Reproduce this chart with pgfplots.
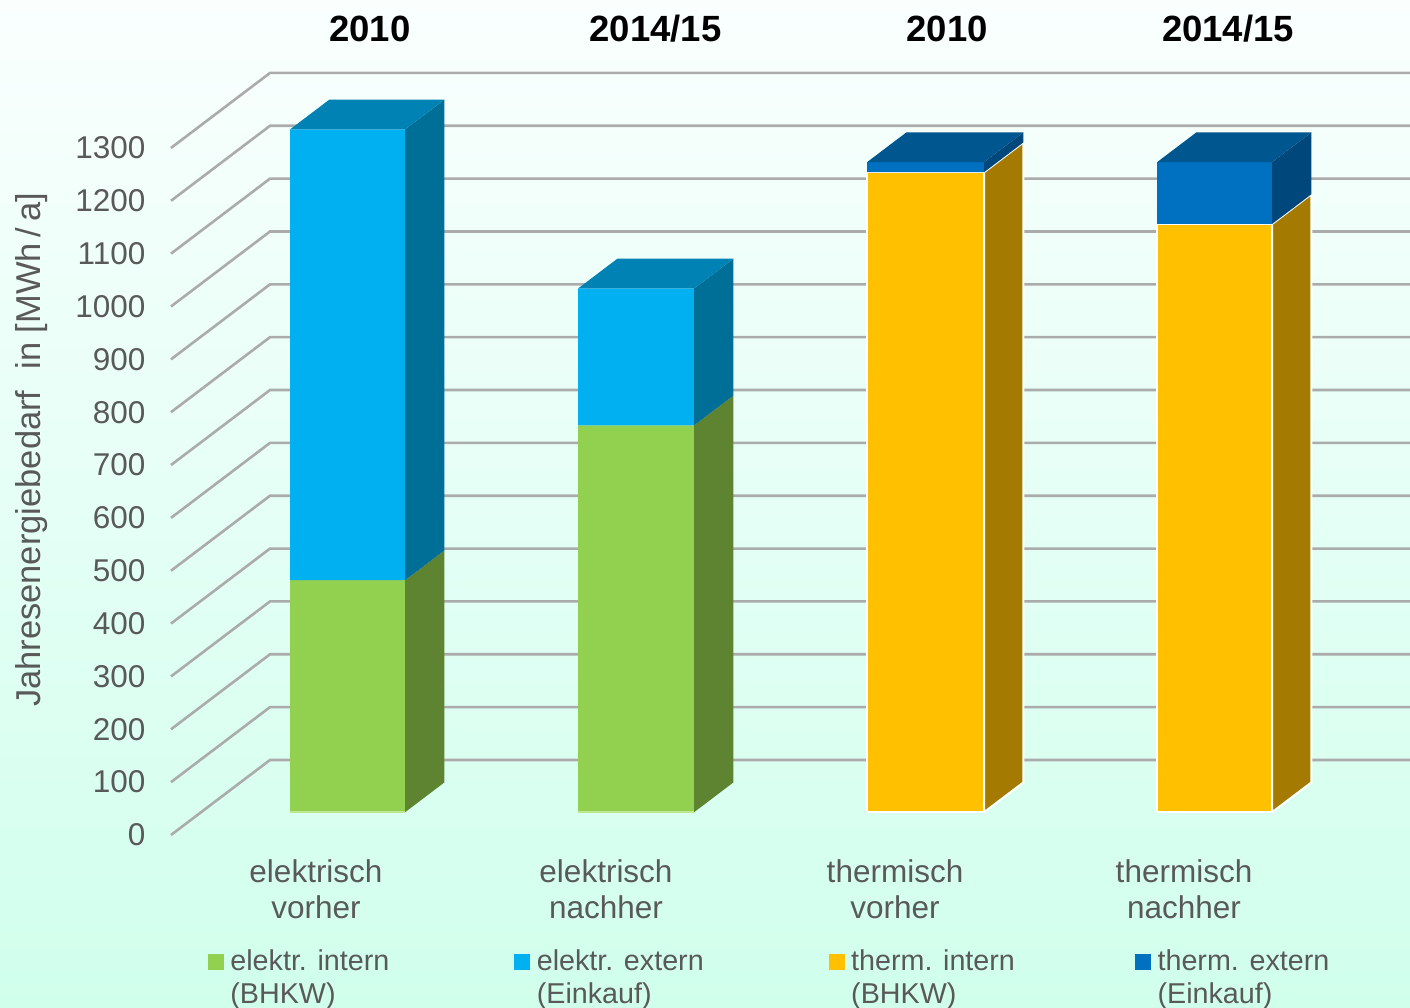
\documentclass[border=0pt]{standalone}
\usepackage{pgfplots}
\pgfplotsset{compat=1.18}
\usepackage{fontspec}
\setmainfont{Liberation Sans}
\definecolor{txt}{HTML}{595959}
\definecolor{gridc}{HTML}{ABABAB}
\definecolor{bgT}{HTML}{FAFFFE}\definecolor{bgM}{HTML}{E5FFF6}\definecolor{bgB}{HTML}{D0FFEC}
\definecolor{grA}{HTML}{92D050}\definecolor{grS}{HTML}{5E8331}\definecolor{grL}{HTML}{BDE88F}
\definecolor{blA}{HTML}{00B0F0}\definecolor{blS}{HTML}{006F98}\definecolor{blT}{HTML}{0083B4}
\definecolor{yeA}{HTML}{FFC000}\definecolor{yeS}{HTML}{A47B00}
\definecolor{dbA}{HTML}{0070C0}\definecolor{dbS}{HTML}{00487C}\definecolor{dbT}{HTML}{00568F}
% one block of a bar: x from, x to, z from, z to, colour
\newcommand{\frontface}[6][draw=none]{%
  \addplot3[forget plot,mark=none,fill=#6,#1] coordinates {(#2,0.305,#4)(#3,0.305,#4)(#3,0.305,#5)(#2,0.305,#5)(#2,0.305,#4)};}
\newcommand{\sideface}[6][draw=none]{%
  \addplot3[forget plot,mark=none,fill=#6,#1] coordinates {(#3,0.305,#4)(#3,0.7,#4)(#3,0.7,#5)(#3,0.305,#5)(#3,0.305,#4)};}
\newcommand{\topface}[4]{%
  \addplot3[forget plot,mark=none,fill=#4,draw=none] coordinates {(#1,0.305,#3)(#2,0.305,#3)(#2,0.7,#3)(#1,0.7,#3)(#1,0.305,#3)};}
\begin{document}
\begin{tikzpicture}[x=1pt,y=1pt]
\useasboundingbox (0,0) rectangle (1410,1008);
\clip (0,0) rectangle (1410,1008);
\shade[top color=bgT,bottom color=bgB,middle color=bgM] (0,0) rectangle (1410,1008);
\begin{axis}[
  at={(171pt,173pt)},anchor=origin,
  x={(1pt,0pt)},y={(99pt,75pt)},z={(0pt,0.5285pt)},
  xmin=0,xmax=1140,ymin=0,ymax=1,zmin=0,zmax=1300,
  clip=false,
  axis line style={draw=none},
  major tick length=0pt,minor tick length=0pt,
  grid=none,
  ytick=\empty,
  ztick={0,100,...,1300},
  xtick={145,435,724,1013},
  xticklabels={elektrisch\\vorher,elektrisch\\nachher,thermisch\\vorher,thermisch\\nachher},
  /pgf/number format/assume math mode=true,
  /pgf/number format/1000 sep={},
  tick label style={font=\fontsize{31.5}{36}\selectfont,text=txt},
  x tick label style={align=center,anchor=north,yshift=-21pt},
  z tick label style={anchor=east,xshift=-22pt},
  zticklabel pos=left,
  xticklabel pos=left,
  legend columns=4,
  legend cell align=left,
  legend style={at={(axis cs:37,0,-214)},anchor=north west,draw=none,fill=none,inner sep=0pt,outer sep=0pt,
    font=\fontsize{28.7}{33}\selectfont,text=txt,
    /tikz/every even column/.append style={column sep=0pt},
    /tikz/column 1/.style={column sep=5pt},/tikz/column 3/.style={column sep=5pt},
    /tikz/column 5/.style={column sep=5pt},/tikz/column 7/.style={column sep=5pt}},
  legend image code/.code={\fill[#1] (0pt,-8pt) rectangle (15pt,7pt);},
]
\pgfplotsinvokeforeach{0,100,...,1300}{
  \addplot3[forget plot,mark=none,draw=gridc,line width=2.6pt,line join=miter] coordinates {(0,0,#1)(0,1,#1)(1140,1,#1)};
}
% Bar 1: elektrisch vorher
\frontface{89}{204}{0}{439}{grA}
\sideface{89}{204}{0}{439}{grS}
\frontface{89}{204}{439}{1292}{blA}
\sideface{89}{204}{439}{1292}{blS}
\topface{89}{204}{1292}{blT}
\addplot3[forget plot,mark=none,draw=grL,line width=2pt] coordinates {(89,0.305,0)(204,0.305,0)};
% Bar 2: elektrisch nachher
\frontface{377}{493}{0}{732}{grA}
\sideface{377}{493}{0}{732}{grS}
\frontface{377}{493}{732}{991}{blA}
\sideface{377}{493}{732}{991}{blS}
\topface{377}{493}{991}{blT}
\addplot3[forget plot,mark=none,draw=grL,line width=2pt] coordinates {(377,0.305,0)(493,0.305,0)};
% Bar 3: thermisch vorher
\frontface[draw=white,line width=2pt]{666}{783}{0}{1211}{yeA}
\sideface[draw=white,line width=2pt]{666}{783}{0}{1211}{yeS}
\frontface{666}{783}{1211}{1230}{dbA}
\sideface{666}{783}{1211}{1230}{dbS}
\topface{666}{783}{1230}{dbT}
% Bar 4: thermisch nachher
\frontface[draw=white,line width=2pt]{956}{1071}{0}{1113}{yeA}
\sideface[draw=white,line width=2pt]{956}{1071}{0}{1113}{yeS}
\frontface{956}{1071}{1113}{1230}{dbA}
\sideface{956}{1071}{1113}{1230}{dbS}
\topface{956}{1071}{1230}{dbT}
\addlegendimage{grA}\addlegendentry{\parbox[t]{282pt}{elektr. intern\\(BHKW)}}
\addlegendimage{blA}\addlegendentry{\parbox[t]{290pt}{elektr. extern\\(Einkauf)}}
\addlegendimage{yeA}\addlegendentry{\parbox[t]{282pt}{therm. intern\\(BHKW)}}
\addlegendimage{dbA}\addlegendentry{\parbox[t]{200pt}{therm. extern\\(Einkauf)}}
\end{axis}
\node[font=\bfseries\fontsize{36.5}{40}\selectfont,text=black] at (370,979) {2010};
\node[font=\bfseries\fontsize{36.5}{40}\selectfont,text=black] at (655.5,979) {2014/15};
\node[font=\bfseries\fontsize{36.5}{40}\selectfont,text=black] at (947,979) {2010};
\node[font=\bfseries\fontsize{36.5}{40}\selectfont,text=black] at (1228,979) {2014/15};
\node[rotate=90,font=\fontsize{34.5}{38}\selectfont,text=txt] at (32,558) {Jahresenergiebedarf\,\, in [MWh\,/\,a]};
\end{tikzpicture}
\end{document}
